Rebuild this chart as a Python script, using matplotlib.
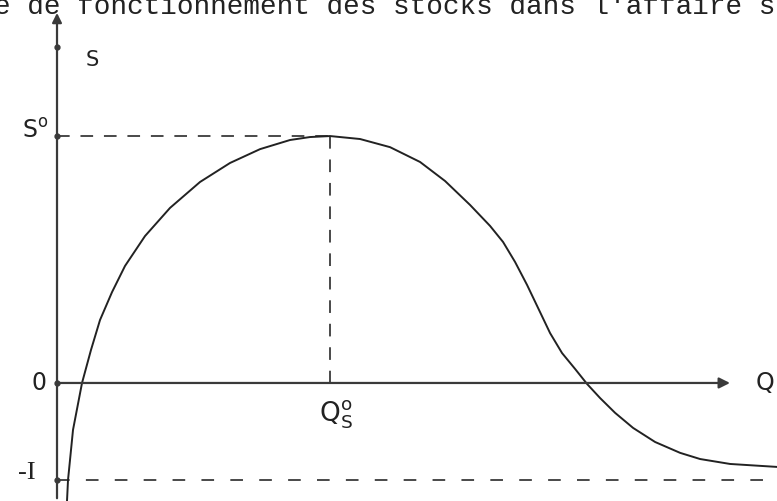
#schematic of the stock function S(Q) as scanned from the typed report

import numpy as np
import matplotlib.pyplot as plt

#curve (Q in units of Q_S°, S in units of S°)
q_curve = [0.0366, 0.0403, 0.0586, 0.0916, 0.1245, 0.1575, 0.2015, 0.2491, 0.3223,
           0.4139, 0.5238, 0.6337, 0.7436, 0.8535, 0.9267, 1.0000, 1.1099, 1.2198,
           1.3297, 1.4212, 1.5128, 1.5861, 1.6337, 1.6777, 1.7216, 1.7692, 1.8059,
           1.8498, 1.8974, 1.9414, 1.9890, 2.0440, 2.1099, 2.1905, 2.2821, 2.3553,
           2.4652, 2.6374]
s_curve = [-0.478, -0.393, -0.190, 0.000, 0.134, 0.255, 0.368, 0.474, 0.595,
           0.709, 0.814, 0.891, 0.947, 0.984, 0.996, 1.000, 0.988, 0.955,
           0.895, 0.818, 0.721, 0.636, 0.571, 0.490, 0.397, 0.287, 0.202,
           0.121, 0.057, -0.004, -0.061, -0.121, -0.182, -0.239, -0.283, -0.308,
           -0.328, -0.340]

s_top = 1.0        # S°
q_top = 1.0        # Q_S°
s_floor = -0.393   # -I

grey = '#3a3a3a'

fig = plt.figure(figsize=(7.77, 5.01), dpi=100)
ax = fig.add_axes([0, 0, 1, 1])
ax.set_xlim(-0.2088, 2.637)
ax.set_ylim(-0.478, 1.551)
ax.axis('off')

#axes with arrows
ax.annotate('', xy=(0, 1.51), xytext=(0, -0.478),
            arrowprops=dict(arrowstyle='-|>', color=grey, lw=1.6, mutation_scale=14))
ax.annotate('', xy=(2.475, 0), xytext=(0, 0),
            arrowprops=dict(arrowstyle='-|>', color=grey, lw=1.6, mutation_scale=16))
ax.plot([0, 0, 0], [s_top, 0, s_floor], 'o', color=grey, ms=3.5)
ax.plot([0], [1.36], 'o', color=grey, ms=3.5)

#dashed guides
ax.plot([0, q_top], [s_top, s_top], color=grey, lw=1.3, dashes=(7, 6))
ax.plot([q_top, q_top], [s_top, 0], color=grey, lw=1.3, dashes=(7, 6))
ax.plot([0, 2.637], [s_floor, s_floor], color=grey, lw=1.3, dashes=(7, 9))

#the curve
ax.plot(q_curve, s_curve, color='#222222', lw=1.4, solid_joinstyle='round')

#labels
ax.text(0.128, 1.31, 'S', fontsize=15, color='#222222', ha='center', va='center')
ax.text(-0.08, 1.02, 'S$^{\\rm o}$', fontsize=17, color='#222222', ha='center', va='center')
ax.text(-0.065, 0.0, '0', fontsize=17, color='#222222', ha='center', va='center')
ax.text(-0.11, s_floor + 0.03, '-I', fontsize=19, color='#222222', ha='center', va='center',
        family='Liberation Serif')
ax.text(2.593, 0.0, 'Q', fontsize=17, color='#222222', ha='center', va='center')
ax.text(q_top + 0.02, -0.13, 'Q$_{\\rm S}^{\\rm o}$', fontsize=19, color='#222222',
        ha='center', va='center')

#clipped line of typed text from the page above
fig.text(-0.008, 0.972, "e de fonctionnement des stocks dans l'affaire s",
         fontsize=20, family='Liberation Mono', color='#222222', ha='left', va='baseline')

fig.savefig('out.png', dpi=100)
